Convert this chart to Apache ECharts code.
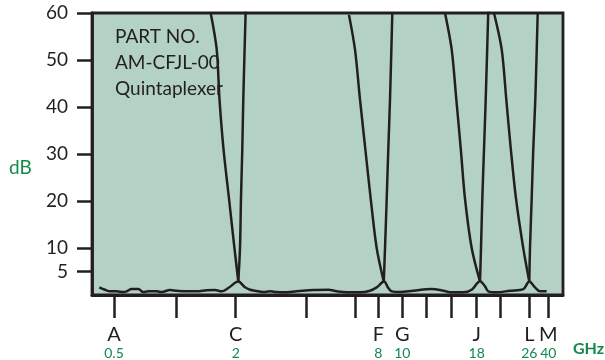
<!DOCTYPE html>
<html><head><meta charset="utf-8">
<script src="https://cdn.jsdelivr.net/npm/echarts@6/dist/echarts.min.js"></script>
<style>html,body{margin:0;padding:0;background:#fff}#c{width:605px;height:360px}</style>
</head><body><div id="c"></div>
<script>
// x axis: schematic band positions (0..100), ticks and band labels
const tickPositions = [4.67, 17.83, 30.51, 45.58, 55.84, 60.79, 65.88, 71.06, 76.22, 81.68, 86.62, 92.84, 96.88];
const bandPositions = [4.67, 30.51, 60.79, 65.88, 81.68, 92.84, 96.88];
const bandLetters = ['A', 'C', 'F', 'G', 'J', 'L', 'M'];
const bandGHz = ['0.5', '2', '8', '10', '18', '26', '40'];
const dbTicks = [5, 10, 20, 30, 40, 50, 60];

// insertion loss floor across all bands [position, dB]
const passbandFloor = [[1.55,1.63],[2.76,1.12],[3.82,0.78],[5.24,0.78],[6.65,0.63],[7.37,0.78],[8.43,1.27],[9.83,1.27],[10.89,0.63],[11.95,0.78],[13.74,0.78],[14.80,0.63],[16.56,1.06],[17.98,0.91],[20.11,0.78],[22.23,0.78],[24.35,0.99],[26.11,1.06],[27.54,0.78],[28.94,1.48],[31.06,2.85],[32.48,1.63],[33.55,1.12],[34.61,0.91],[36.37,0.63],[37.79,0.78],[39.21,0.63],[40.62,0.57],[43.46,0.78],[46.99,1.06],[50.17,1.12],[51.95,0.78],[54.08,0.57],[56.90,0.57],[59.02,0.91],[60.45,1.63],[62.00,2.85],[62.91,1.48],[63.63,0.78],[65.39,0.63],[68.22,0.91],[72.12,1.27],[74.59,0.91],[76.37,0.57],[78.83,0.57],[80.62,1.12],[82.38,2.95],[83.44,1.84],[84.14,0.78],[85.92,0.57],[88.75,0.91],[91.57,1.27],[92.84,2.85],[94.06,1.63],[95.12,0.78],[96.54,0.78]];

// rejection skirts at each crossover
const cLow  = [[25.2,60],[26.48,52.2],[27.07,41.6],[27.92,31.06],[29.09,20.49],[30.25,9.93],[31.06,2.85]];
const cHigh = [[32.63,60.6],[32.12,41.6],[31.91,31.06],[31.63,20.49],[31.42,9.93],[31.06,2.85]];
const fLow  = [[54.56,59.6],[55.84,52.2],[56.90,41.6],[58.03,31.06],[59.17,20.49],[60.45,9.93],[61.95,2.85]];
const fHigh = [[63.76,60],[63.27,41.6],[62.91,31.06],[62.57,20.49],[62.21,9.93],[61.95,2.85]];
const jLow  = [[74.95,60],[76.37,52.2],[77.35,41.6],[78.30,31.06],[79.19,20.49],[80.62,9.93],[82.35,2.95]];
const jHigh = [[84.14,60.6],[83.59,41.6],[83.23,31.06],[82.87,20.49],[82.59,9.93],[82.38,2.95]];
const lLow  = [[85.35,60],[86.99,52.2],[87.96,41.6],[88.92,31.06],[90.02,20.49],[91.57,9.93],[92.84,2.85]];
const lHigh = [[94.63,60],[94.12,41.6],[93.69,31.06],[93.35,20.49],[92.99,9.93],[92.84,2.85]];

const INK = '#231f20';
const GREEN = '#138a4c';
const FONT = 'Lato';

const lineSeries = (data, smooth) => ({
  type: 'line', data: data, showSymbol: false, symbol: 'none', smooth: smooth,
  lineStyle: { color: INK, width: 2.5 }, clip: true, silent: true
});

const chart = echarts.init(document.getElementById('c'), null, { renderer: 'canvas' });
chart.setOption({
  animation: false,
  textStyle: { fontFamily: FONT },
  title: {
    text: 'PART NO.\nAM-CFJL-00\nQuintaplexer',
    left: 110, top: 19,
    textStyle: { fontFamily: FONT, fontSize: 19, fontWeight: 'normal', color: INK, lineHeight: 26 }
  },
  graphic: [
    { type: 'text', left: 9, top: 158, style: { text: 'dB', fontFamily: FONT, fontSize: 19, fill: GREEN } },
    { type: 'text', left: 573, top: 341, style: { text: 'GHz', fontFamily: FONT, fontSize: 16, fontWeight: 'bold', fill: GREEN } }
  ],
  grid: {
    left: 92, right: 42, top: 13, bottom: 63,
    show: true, backgroundColor: '#b3d2c3', borderColor: INK, borderWidth: 2.8
  },
  xAxis: {
    type: 'value', min: 0, max: 100,
    splitLine: { show: false },
    axisLine: { show: true, lineStyle: { color: INK, width: 2.8 } },
    axisTick: { show: true, customValues: tickPositions, length: 23, lineStyle: { color: INK, width: 2.5 } },
    axisLabel: {
      customValues: bandPositions, margin: 30, hideOverlap: false,
      formatter: function (v) {
        let best = 0;
        bandPositions.forEach((p, i) => { if (Math.abs(p - v) < Math.abs(bandPositions[best] - v)) best = i; });
        return '{l|' + bandLetters[best] + '}\n{n|' + bandGHz[best] + '}';
      },
      rich: {
        l: { fontFamily: FONT, fontSize: 20, color: INK, lineHeight: 20 },
        n: { fontFamily: FONT, fontSize: 14, color: GREEN, lineHeight: 16 }
      }
    }
  },
  yAxis: {
    type: 'value', min: 0, max: 60,
    splitLine: { show: false },
    axisLine: { show: true, lineStyle: { color: INK, width: 2.8 } },
    axisTick: { show: true, customValues: dbTicks, length: 15, lineStyle: { color: INK, width: 2.5 } },
    axisLabel: { customValues: dbTicks, margin: 24, fontFamily: FONT, fontSize: 19, color: INK }
  },
  series: [
    lineSeries(passbandFloor, 0.35),
    lineSeries(cLow, 0.3), lineSeries(cHigh, 0.3),
    lineSeries(fLow, 0.3), lineSeries(fHigh, 0.3),
    lineSeries(jLow, 0.3), lineSeries(jHigh, 0.3),
    lineSeries(lLow, 0.3), lineSeries(lHigh, 0.3)
  ]
});
</script></body></html>
